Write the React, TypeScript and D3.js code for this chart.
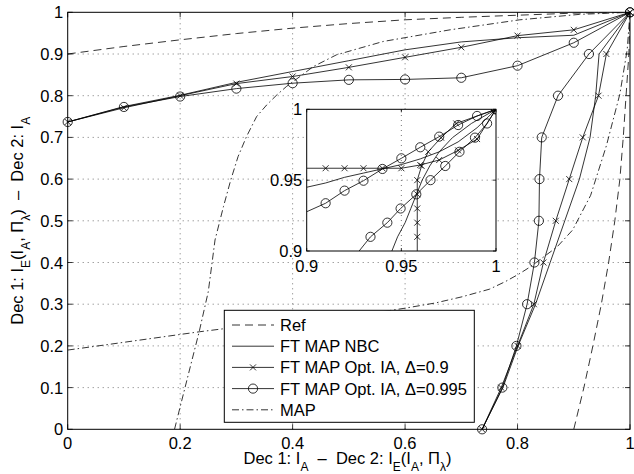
import React from "react";
import * as d3 from "d3";

type Pt = [number, number];

// main axes ticks
const xTicks = [0, 0.2, 0.4, 0.6, 0.8, 1];
const xTickLabels = ["0", "0.2", "0.4", "0.6", "0.8", "1"];
const yTicks = [0, 0.1, 0.2, 0.3, 0.4, 0.5, 0.6, 0.7, 0.8, 0.9, 1];
const yTickLabels = ["0", "0.1", "0.2", "0.3", "0.4", "0.5", "0.6", "0.7", "0.8", "0.9", "1"];
// inset ticks
const insetTicks = [0.9, 0.95, 1];
const insetTickLabels = ["0.9", "0.95", "1"];

// Ref (dashed)
const refTop: Pt[] = [[0, 0.9], [0.1, 0.918], [0.2, 0.934], [0.3, 0.949], [0.4, 0.962], [0.5, 0.973], [0.6, 0.982], [0.7, 0.988], [0.8, 0.993], [0.9, 0.998], [1, 1]];
const refRight: Pt[] = [[0.9, 0], [0.918, 0.1], [0.934, 0.2], [0.949, 0.3], [0.962, 0.4], [0.973, 0.5], [0.982, 0.6], [0.988, 0.7], [0.993, 0.8], [0.998, 0.9], [1, 1]];

// MAP (dash-dot)
const mapLeft: Pt[] = [[0.19, 0], [0.2, 0.054], [0.234, 0.235], [0.25, 0.33], [0.262, 0.454], [0.277, 0.534], [0.29, 0.598], [0.303, 0.654], [0.318, 0.702], [0.336, 0.75], [0.354, 0.778], [0.372, 0.802], [0.389, 0.822], [0.437, 0.87], [0.478, 0.898], [0.561, 0.93], [0.68, 0.958], [0.804, 0.982], [0.91, 0.995], [1, 1]];
const mapBottom: Pt[] = [[0, 0.19], [0.054, 0.2], [0.235, 0.234], [0.33, 0.25], [0.454, 0.262], [0.534, 0.277], [0.598, 0.29], [0.654, 0.303], [0.702, 0.318], [0.75, 0.336], [0.778, 0.354], [0.802, 0.372], [0.822, 0.389], [0.87, 0.437], [0.898, 0.478], [0.93, 0.561], [0.958, 0.68], [0.982, 0.804], [0.995, 0.91], [1, 1]];

// FT MAP NBC (solid)
const nbcTop: Pt[] = [[0, 0.737], [0.1, 0.774], [0.2, 0.801], [0.3, 0.832], [0.4, 0.858], [0.5, 0.884], [0.6, 0.91], [0.7, 0.929], [0.8, 0.939], [0.9, 0.945], [1, 1]];
const nbcRight: Pt[] = [[0.737, 0], [0.774, 0.1], [0.801, 0.2], [0.832, 0.3], [0.858, 0.4], [0.884, 0.5], [0.91, 0.6], [0.929, 0.7], [0.939, 0.8], [0.945, 0.9], [1, 1]];

// FT MAP Opt. IA, delta=0.9 (x markers)
const ia09Top: Pt[] = [[0, 0.737], [0.1, 0.771], [0.2, 0.8], [0.3, 0.829], [0.4, 0.846], [0.5, 0.868], [0.6, 0.892], [0.7, 0.916], [0.8, 0.944], [0.9, 0.958], [1, 1]];
const ia09Right: Pt[] = [[0.737, 0], [0.771, 0.1], [0.8, 0.2], [0.829, 0.3], [0.846, 0.4], [0.868, 0.5], [0.892, 0.6], [0.916, 0.7], [0.944, 0.8], [0.958, 0.9], [1, 1]];

// FT MAP Opt. IA, delta=0.995 (o markers)
const ia995Top: Pt[] = [[0, 0.737], [0.1, 0.773], [0.2, 0.798], [0.3, 0.817], [0.4, 0.83], [0.5, 0.838], [0.6, 0.839], [0.7, 0.843], [0.8, 0.872], [0.9, 0.927], [1, 1]];
const ia995Right: Pt[] = [[0.737, 0], [0.773, 0.1], [0.798, 0.2], [0.817, 0.3], [0.83, 0.4], [0.838, 0.5], [0.839, 0.6], [0.843, 0.7], [0.872, 0.8], [0.927, 0.9], [1, 1]];

// zoomed data for the inset
const inNbcTop: Pt[] = [[0.9, 0.945], [0.91, 0.948], [0.92, 0.952], [0.93, 0.955], [0.94, 0.958], [0.95, 0.961], [0.96, 0.965], [0.97, 0.97], [0.98, 0.977], [0.99, 0.987], [1, 1]];
const inNbcRight: Pt[] = [[0.945, 0.9], [0.948, 0.91], [0.952, 0.92], [0.955, 0.93], [0.958, 0.94], [0.961, 0.95], [0.965, 0.96], [0.97, 0.97], [0.977, 0.98], [0.987, 0.99], [1, 1]];
const inIa09Top: Pt[] = [[0.9, 0.9584], [0.91, 0.9584], [0.92, 0.9584], [0.93, 0.9584], [0.94, 0.9584], [0.95, 0.9584], [0.96, 0.9607], [0.97, 0.9642], [0.98, 0.971], [0.99, 0.979], [1, 1]];
const inIa09Right: Pt[] = [[0.9584, 0.9], [0.9584, 0.91], [0.9584, 0.92], [0.9584, 0.93], [0.9584, 0.94], [0.9584, 0.95], [0.9607, 0.96], [0.9642, 0.97], [0.971, 0.98], [0.979, 0.99], [1, 1]];
const inIa995Top: Pt[] = [[0.9, 0.9277], [0.91, 0.9337], [0.92, 0.9426], [0.93, 0.9496], [0.94, 0.9579], [0.95, 0.9654], [0.96, 0.9732], [0.97, 0.9807], [0.98, 0.9889], [0.99, 0.9953], [1, 1]];
const inIa995Right: Pt[] = [[0.9277, 0.9], [0.9337, 0.91], [0.9426, 0.92], [0.9496, 0.93], [0.9579, 0.94], [0.9654, 0.95], [0.9732, 0.96], [0.9807, 0.97], [0.9889, 0.98], [0.9953, 0.99], [1, 1]];

const legendLabels = ["Ref", "FT MAP NBC", "FT MAP Opt. IA, \u0394=0.9", "FT MAP Opt. IA, \u0394=0.995", "MAP"];
const legendStyles = ["ref", "nbc", "ia09", "ia995", "map"];

const W = 634;
const H = 474;
const FONT = "'Liberation Sans', Arial, Helvetica, sans-serif";
const FS = 16.5;
const DASH = "8,5";
const DASHDOT = "7,3,1.5,3";
const GAP = "\u00A0\u00A0\u2013\u00A0\u00A0";

const x = d3.scaleLinear().domain([0, 1]).range([67.7, 630]);
const y = d3.scaleLinear().domain([0, 1]).range([429.3, 12.3]);
const xi = d3.scaleLinear().domain([0.9, 1]).range([306.7, 496]);
const yi = d3.scaleLinear().domain([0.9, 1]).range([251, 109.3]);

const Circ = ({ cx, cy }: { cx: number; cy: number }) => (
  <circle cx={cx} cy={cy} r={4.6} fill="none" stroke="#000" strokeWidth={0.8} />
);
const Cross = ({ cx, cy }: { cx: number; cy: number }) => (
  <path d={`M${cx - 3},${cy - 3}L${cx + 3},${cy + 3}M${cx - 3},${cy + 3}L${cx + 3},${cy - 3}`} stroke="#000" strokeWidth={0.8} />
);

export default function App() {
  const line = d3.line<Pt>().x((d) => x(d[0])).y((d) => y(d[1]));
  const lineI = d3.line<Pt>().x((d) => xi(d[0])).y((d) => yi(d[1]));

  const series = (
    ln: d3.Line<Pt>,
    data: Pt[],
    dash: string | undefined,
    key: string
  ) => (
    <path key={key} d={ln(data) || ""} fill="none" stroke="#000" strokeWidth={0.8} strokeDasharray={dash} />
  );

  const gridStyle = { stroke: "#555", strokeWidth: 0.8, strokeDasharray: "1,4" };

  const inInside = (d: Pt) => d[0] > 0.9005 && d[1] > 0.9005;

  // legend geometry
  const lgX = 224.3;
  const lgY = 310.3;
  const lgW = 250;
  const lgH = 112;
  const rowY = (i: number) => 325 + i * 21.2;

  return (
    <svg width={W} height={H} style={{ position: "absolute", left: 0, top: 0, background: "#fff" }} fontFamily={FONT}>
      <defs>
        <clipPath id="mainClip">
          <rect x={x(0)} y={y(1)} width={x(1) - x(0)} height={y(0) - y(1)} />
        </clipPath>
        <clipPath id="insetClip">
          <rect x={xi(0.9)} y={yi(1)} width={xi(1) - xi(0.9)} height={yi(0.9) - yi(1)} />
        </clipPath>
      </defs>
      <rect x={0} y={0} width={W} height={H} fill="#fff" />

      {/* grid */}
      <g>
        {xTicks.slice(1, -1).map((t) => (
          <line key={"gx" + t} x1={x(t)} x2={x(t)} y1={y(0)} y2={y(1)} style={gridStyle} />
        ))}
        {yTicks.slice(1, -1).map((t) => (
          <line key={"gy" + t} x1={x(0)} x2={x(1)} y1={y(t)} y2={y(t)} style={gridStyle} />
        ))}
      </g>

      {/* curves */}
      <g clipPath="url(#mainClip)">
        {series(line, refTop, DASH, "r1")}
        {series(line, refRight, DASH, "r2")}
        {series(line, mapLeft, DASHDOT, "m1")}
        {series(line, mapBottom, DASHDOT, "m2")}
        {series(line, nbcTop, undefined, "n1")}
        {series(line, nbcRight, undefined, "n2")}
        {series(line, ia09Top, undefined, "a1")}
        {series(line, ia09Right, undefined, "a2")}
        {series(line, ia995Top, undefined, "b1")}
        {series(line, ia995Right, undefined, "b2")}
      </g>
      <g>
        {[...ia09Top, ...ia09Right].map((d, i) => (
          <Cross key={"cx" + i} cx={x(d[0])} cy={y(d[1])} />
        ))}
        {[...ia995Top, ...ia995Right].map((d, i) => (
          <Circ key={"cc" + i} cx={x(d[0])} cy={y(d[1])} />
        ))}
      </g>

      {/* frame & ticks */}
      <rect x={x(0)} y={y(1)} width={x(1) - x(0)} height={y(0) - y(1)} fill="none" stroke="#000" strokeWidth={1} />
      {xTicks.map((t) => (
        <g key={"tx" + t}>
          <line x1={x(t)} x2={x(t)} y1={y(0)} y2={y(0) - 5} stroke="#000" strokeWidth={0.8} />
          <line x1={x(t)} x2={x(t)} y1={y(1)} y2={y(1) + 5} stroke="#000" strokeWidth={0.8} />
        </g>
      ))}
      {yTicks.map((t) => (
        <g key={"ty" + t}>
          <line x1={x(0)} x2={x(0) + 5} y1={y(t)} y2={y(t)} stroke="#000" strokeWidth={0.8} />
          <line x1={x(1)} x2={x(1) - 5} y1={y(t)} y2={y(t)} stroke="#000" strokeWidth={0.8} />
        </g>
      ))}
      {xTicks.map((t, i) => (
        <text key={"lx" + t} x={x(t)} y={y(0) + 20} fontSize={FS} textAnchor="middle">
          {xTickLabels[i]}
        </text>
      ))}
      {yTicks.map((t, i) => (
        <text key={"ly" + t} x={x(0) - 4.5} y={y(t) + 6} fontSize={FS} textAnchor="end">
          {yTickLabels[i]}
        </text>
      ))}

      {/* axis labels */}
      <text x={347.5} y={464} fontSize={FS} textAnchor="middle">
        <tspan>Dec 1: I</tspan>
        <tspan dy={6.5} fontSize={12}>A</tspan>
        <tspan dy={-6.5}>{GAP + "Dec 2: I"}</tspan>
        <tspan dy={6.5} fontSize={12}>E</tspan>
        <tspan dy={-6.5}>(I</tspan>
        <tspan dy={6.5} fontSize={12}>A</tspan>
        <tspan dy={-6.5}>{", \u03A0"}</tspan>
        <tspan dy={6.5} fontSize={12}>{"\u03BB"}</tspan>
        <tspan dy={-6.5}>)</tspan>
      </text>
      <text transform={`translate(23,${(y(0) + y(1)) / 2}) rotate(-90)`} fontSize={FS} textAnchor="middle">
        <tspan>Dec 1: I</tspan>
        <tspan dy={6.5} fontSize={12}>E</tspan>
        <tspan dy={-6.5}>(I</tspan>
        <tspan dy={6.5} fontSize={12}>A</tspan>
        <tspan dy={-6.5}>{", \u03A0"}</tspan>
        <tspan dy={6.5} fontSize={12}>{"\u03BB"}</tspan>
        <tspan dy={-6.5}>{")" + GAP + "Dec 2: I"}</tspan>
        <tspan dy={6.5} fontSize={12}>A</tspan>
      </text>

      {/* inset */}
      <rect x={xi(0.9)} y={yi(1)} width={xi(1) - xi(0.9)} height={yi(0.9) - yi(1)} fill="#fff" />
      <line x1={xi(0.95)} x2={xi(0.95)} y1={yi(0.9)} y2={yi(1)} style={gridStyle} />
      <line x1={xi(0.9)} x2={xi(1)} y1={yi(0.95)} y2={yi(0.95)} style={gridStyle} />
      <g clipPath="url(#insetClip)">
        {series(lineI, inNbcTop, undefined, "in1")}
        {series(lineI, inNbcRight, undefined, "in2")}
        {series(lineI, inIa09Top, undefined, "ia1")}
        {series(lineI, inIa09Right, undefined, "ia2")}
        {series(lineI, inIa995Top, undefined, "ib1")}
        {series(lineI, inIa995Right, undefined, "ib2")}
        {[...inIa09Top, ...inIa09Right].filter(inInside).map((d, i) => (
          <Cross key={"icx" + i} cx={xi(d[0])} cy={yi(d[1])} />
        ))}
        {[...inIa995Top, ...inIa995Right].filter(inInside).map((d, i) => (
          <Circ key={"icc" + i} cx={xi(d[0])} cy={yi(d[1])} />
        ))}
      </g>
      <rect x={xi(0.9)} y={yi(1)} width={xi(1) - xi(0.9)} height={yi(0.9) - yi(1)} fill="none" stroke="#000" strokeWidth={1} />
      {insetTicks.map((t) => (
        <g key={"itk" + t}>
          <line x1={xi(t)} x2={xi(t)} y1={yi(0.9)} y2={yi(0.9) - 3} stroke="#000" strokeWidth={0.8} />
          <line x1={xi(t)} x2={xi(t)} y1={yi(1)} y2={yi(1) + 3} stroke="#000" strokeWidth={0.8} />
          <line x1={xi(0.9)} x2={xi(0.9) + 3} y1={yi(t)} y2={yi(t)} stroke="#000" strokeWidth={0.8} />
          <line x1={xi(1)} x2={xi(1) - 3} y1={yi(t)} y2={yi(t)} stroke="#000" strokeWidth={0.8} />
        </g>
      ))}
      {insetTicks.map((t, i) => (
        <text key={"ilx" + t} x={xi(t)} y={yi(0.9) + 20.5} fontSize={FS} textAnchor="middle">
          {insetTickLabels[i]}
        </text>
      ))}
      {insetTicks.map((t, i) => (
        <text key={"ily" + t} x={xi(0.9) - 4.5} y={yi(t) + 6} fontSize={FS} textAnchor="end">
          {insetTickLabels[i]}
        </text>
      ))}

      {/* legend */}
      <rect x={lgX} y={lgY} width={lgW} height={lgH} fill="#fff" stroke="#000" strokeWidth={1} />
      {legendLabels.map((lab, i) => {
        const st = legendStyles[i];
        const ly = rowY(i);
        const dash = st === "ref" ? DASH : st === "map" ? DASHDOT : undefined;
        return (
          <g key={"lg" + i}>
            <line x1={232} x2={274} y1={ly} y2={ly} stroke="#000" strokeWidth={0.8} strokeDasharray={dash} />
            {st === "ia09" && <Cross cx={253} cy={ly} />}
            {st === "ia995" && <Circ cx={253} cy={ly} />}
            <text x={280} y={ly + 6} fontSize={FS}>
              {lab}
            </text>
          </g>
        );
      })}
    </svg>
  );
}
